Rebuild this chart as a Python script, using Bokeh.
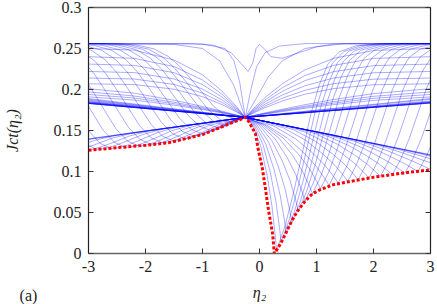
from bokeh.plotting import figure
from bokeh.models import LinearAxis, FixedTicker, Label
from bokeh.embed import file_html
from bokeh.resources import INLINE
from bokeh.core import enums
import math

# ---------------- data ----------------
x_ticks = [-3, -2, -1, 0, 1, 2, 3]
x_tick_labels = ["-3", "-2", "-1", "0", "1", "2", "3"]
y_ticks = [0, 0.05, 0.1, 0.15, 0.2, 0.25, 0.3]
y_tick_labels = ["0", "0.05", "0.1", "0.15", "0.2", "0.25", "0.3"]

# red dotted curve (lower envelope)
red_x = [-3.0, -2.5, -2.0, -1.6, -1.0, -0.75, -0.5, -0.35, -0.25, -0.18, -0.07, -0.02,
         0.05, 0.1, 0.16, 0.23, 0.26, 0.3, 0.37, 0.45, 0.51, 0.6, 0.67, 0.8, 0.93,
         1.07, 1.3, 1.6, 2.0, 2.5, 3.0]
red_y = [0.126, 0.129, 0.132, 0.135, 0.145, 0.152, 0.159, 0.163, 0.166, 0.160, 0.146, 0.126,
         0.104, 0.081, 0.052, 0.024, 0.0, 0.004, 0.012, 0.023, 0.032, 0.044, 0.052, 0.064, 0.073,
         0.078, 0.084, 0.088, 0.093, 0.098, 0.102]

# blue family A: curves with their dip on the right-hand side
family_right = [
    ([-3, -2.2, -1.5, -1.0, -0.65, -0.4, -0.25, -0.1125, 0.025, 0.135, 0.2175, 0.2725, 0.30, 0.45, 0.60, 0.75, 0.90, 1.05, 1.20, 1.40, 1.70, 2.10, 3.5],
     [0.250, 0.248, 0.236, 0.218, 0.1975, 0.179, 0.166, 0.156, 0.130, 0.0948, 0.0584, 0.024, 0.004, 0.034, 0.075, 0.122, 0.170, 0.206, 0.231, 0.246, 0.2535, 0.256, 0.256]),
    ([-3, -2.2, -1.5, -1.0, -0.65, -0.4, -0.25, -0.0925, 0.065, 0.191, 0.2855, 0.3485, 0.38, 0.53, 0.68, 0.83, 0.98, 1.13, 1.28, 1.48, 1.78, 2.18, 3.5],
     [0.240, 0.238, 0.228, 0.2116, 0.1938, 0.1775, 0.166, 0.1563, 0.132, 0.0985, 0.0645, 0.0327, 0.014, 0.043, 0.082, 0.128, 0.174, 0.2076, 0.232, 0.2463, 0.2536, 0.256, 0.256]),
    ([-3, -2.2, -1.5, -1.0, -0.65, -0.4, -0.25, -0.07, 0.11, 0.254, 0.362, 0.434, 0.47, 0.62, 0.77, 0.92, 1.07, 1.22, 1.37, 1.57, 1.87, 2.27, 3.5],
     [0.231, 0.2294, 0.2205, 0.206, 0.1904, 0.1761, 0.166, 0.1565, 0.1337, 0.1027, 0.0713, 0.0421, 0.025, 0.0527, 0.0897, 0.1336, 0.1775, 0.2098, 0.2329, 0.2468, 0.2537, 0.256, 0.256]),
    ([-3, -2.2, -1.5, -1.0, -0.65, -0.4, -0.25, -0.045, 0.16, 0.324, 0.447, 0.529, 0.57, 0.72, 0.87, 1.02, 1.17, 1.32, 1.47, 1.67, 1.97, 2.37, 3.5],
     [0.222, 0.2206, 0.2129, 0.2005, 0.187, 0.1747, 0.166, 0.1568, 0.1358, 0.1075, 0.0793, 0.0532, 0.038, 0.0642, 0.099, 0.1405, 0.1819, 0.2124, 0.2342, 0.2473, 0.2538, 0.256, 0.256]),
    ([-3, -2.2, -1.5, -1.0, -0.65, -0.4, -0.25, -0.0175, 0.215, 0.401, 0.5405, 0.6335, 0.68, 0.83, 0.98, 1.13, 1.28, 1.43, 1.58, 1.78, 2.08, 2.48, 3.5],
     [0.214, 0.2128, 0.2062, 0.1956, 0.184, 0.1734, 0.166, 0.1575, 0.1379, 0.1128, 0.088, 0.0652, 0.052, 0.0765, 0.1091, 0.1479, 0.1866, 0.2152, 0.2356, 0.2478, 0.254, 0.256, 0.256]),
    ([-3, -2.2, -1.5, -1.0, -0.65, -0.4, -0.25, 0.0125, 0.275, 0.485, 0.6425, 0.7475, 0.80, 0.95, 1.10, 1.25, 1.40, 1.55, 1.70, 1.90, 2.20, 2.60, 3.5],
     [0.207, 0.206, 0.2004, 0.1913, 0.1814, 0.1724, 0.166, 0.1574, 0.1396, 0.1171, 0.0953, 0.0754, 0.064, 0.087, 0.1178, 0.1542, 0.1907, 0.2176, 0.2368, 0.2483, 0.2541, 0.256, 0.256]),
    ([-3, -2.2, -1.5, -1.0, -0.65, -0.4, -0.25, 0.045, 0.34, 0.576, 0.753, 0.871, 0.93, 1.08, 1.23, 1.38, 1.53, 1.68, 1.83, 2.03, 2.33, 2.73, 3.5],
     [0.201, 0.1955, 0.1869, 0.1793, 0.1734, 0.1688, 0.166, 0.1574, 0.1407, 0.1202, 0.1006, 0.083, 0.073, 0.095, 0.1242, 0.159, 0.1938, 0.2194, 0.2377, 0.2487, 0.2542, 0.256, 0.256]),
    ([-3, -2.2, -1.5, -1.0, -0.65, -0.4, -0.25, 0.08, 0.41, 0.674, 0.872, 1.004, 1.07, 1.22, 1.37, 1.52, 1.67, 1.82, 1.97, 2.17, 2.47, 2.87, 3.5],
     [0.197, 0.1921, 0.1845, 0.1778, 0.1725, 0.1685, 0.166, 0.1572, 0.1411, 0.1219, 0.1039, 0.088, 0.079, 0.1002, 0.1286, 0.1622, 0.1958, 0.2206, 0.2383, 0.2489, 0.2542, 0.256, 0.256]),
    ([-3, -2.2, -1.5, -1.0, -0.65, -0.4, -0.25, 0.1175, 0.485, 0.779, 1.0, 1.1465, 1.22, 1.37, 1.52, 1.67, 1.82, 1.97, 2.12, 2.32, 2.62, 3.02, 3.5],
     [0.194, 0.1896, 0.1827, 0.1766, 0.1719, 0.1683, 0.166, 0.1569, 0.1411, 0.1227, 0.1059, 0.0912, 0.083, 0.1038, 0.1314, 0.1643, 0.1972, 0.2214, 0.2387, 0.2491, 0.2543, 0.256, 0.256]),
    ([-3, -2.2, -1.5, -1.0, -0.65, -0.4, -0.25, -0.12, 0.255, 0.63, 0.93, 1.155, 1.305, 1.38, 1.53, 1.68, 1.83, 1.98, 2.13, 2.28, 2.48, 2.78, 3.18],
     [0.191, 0.1871, 0.1809, 0.1755, 0.1713, 0.168, 0.166, 0.1642, 0.1552, 0.14, 0.1227, 0.107, 0.0935, 0.086, 0.1064, 0.1336, 0.1659, 0.1982, 0.222, 0.239, 0.2492, 0.2543, 0.256]),
    ([-3, -0.25, 0.05, 0.425, 0.80, 1.10, 1.325, 1.475, 1.55, 1.70, 1.85, 2.0, 2.15, 2.30, 2.45, 2.65, 2.95, 3.35],
     [0.189, 0.166, 0.1617, 0.153, 0.1385, 0.1221, 0.1075, 0.095, 0.088, 0.1082, 0.135, 0.167, 0.1989, 0.2224, 0.2392, 0.2493, 0.2543, 0.256]),
    ([-3, -0.25, 0.23, 0.605, 0.98, 1.28, 1.505, 1.655, 1.73, 1.88, 2.03, 2.18, 2.33, 2.48, 2.63, 2.83, 3.13],
     [0.188, 0.166, 0.1592, 0.1507, 0.1369, 0.1215, 0.1079, 0.0964, 0.090, 0.1099, 0.1365, 0.168, 0.1996, 0.2228, 0.2394, 0.2494, 0.2543]),
    ([-3, -0.25, 0.42, 0.795, 1.17, 1.47, 1.695, 1.845, 1.92, 2.07, 2.22, 2.37, 2.52, 2.67, 2.82, 3.02],
     [0.187, 0.166, 0.1565, 0.1482, 0.1351, 0.1208, 0.1083, 0.0978, 0.092, 0.1117, 0.1379, 0.1691, 0.2002, 0.2232, 0.2396, 0.2494]),
    ([-3, -0.25, 0.62, 0.995, 1.37, 1.67, 1.895, 2.045, 2.12, 2.27, 2.42, 2.57, 2.72, 2.87, 3.02],
     [0.186, 0.166, 0.1536, 0.1456, 0.1332, 0.12, 0.1086, 0.0991, 0.094, 0.1134, 0.1394, 0.1701, 0.2009, 0.2236, 0.2398]),
    ([-3, -0.25, 0.83, 1.205, 1.58, 1.88, 2.105, 2.255, 2.33, 2.48, 2.63, 2.78, 2.93, 3.08],
     [0.185, 0.166, 0.1506, 0.1428, 0.1312, 0.1191, 0.1088, 0.1005, 0.096, 0.1152, 0.1408, 0.1712, 0.2016, 0.224]),
    ([-3, -0.25, 1.05, 1.425, 1.80, 2.10, 2.325, 2.475, 2.55, 2.70, 2.85, 3.0, 3.15],
     [0.1848, 0.166, 0.1475, 0.14, 0.1291, 0.1181, 0.109, 0.1018, 0.098, 0.117, 0.1422, 0.1723, 0.2023]),
    ([-3, -0.25, 1.28, 1.655, 2.03, 2.33, 2.555, 2.705, 2.78, 2.93, 3.08],
     [0.1842, 0.166, 0.1443, 0.1371, 0.127, 0.1171, 0.1092, 0.1031, 0.100, 0.1187, 0.1437]),
    ([-3, -0.25, 1.52, 1.895, 2.27, 2.57, 2.795, 2.945, 3.02, 3.17],
     [0.1838, 0.166, 0.141, 0.1339, 0.1246, 0.116, 0.1093, 0.1044, 0.102, 0.1205]),
    ([-3, -0.25, 1.78, 2.155, 2.53, 2.83, 3.055],
     [0.1835, 0.166, 0.1373, 0.1306, 0.1222, 0.1147, 0.1094]),
    ([-3, -0.25, 2.06, 2.435, 2.81, 3.11],
     [0.1833, 0.166, 0.1334, 0.1269, 0.1194, 0.1133]),
    ([-3, -0.25, 2.4, 2.775, 3.15],
     [0.1832, 0.166, 0.1285, 0.1224, 0.116]),
    ([-3, -0.25, 2.8, 3.175],
     [0.1831, 0.166, 0.1228, 0.1171]),
    ([-3, -0.25, 3.0], [0.1830, 0.166, 0.1205]),
    ([-3, -0.25, 3.0], [0.1830, 0.166, 0.1200]),
]

# blue family B: curves with their dip on the left-hand side
family_left = [
    ([-3.2, -2.5, -2.15, -1.85, -1.6, -1.4, -1.2, -1.0, -0.8, -0.6, -0.4, -0.25, -0.1, 0.1, 0.4, 0.8, 1.3, 2.0, 3.0],
     [0.256, 0.256, 0.2542, 0.2495, 0.2403, 0.2283, 0.2125, 0.1959, 0.1792, 0.1681, 0.1635, 0.166, 0.1771, 0.1904, 0.207, 0.224, 0.238, 0.2476, 0.250]),
    ([-3.2, -2.6, -2.25, -1.95, -1.7, -1.5, -1.3, -1.1, -0.9, -0.7, -0.5, -0.4, -0.25, -0.1, 0.1, 0.4, 0.8, 1.3, 2.0, 3.0],
     [0.256, 0.256, 0.2541, 0.2492, 0.2395, 0.2269, 0.2104, 0.193, 0.1755, 0.1639, 0.159, 0.1618, 0.166, 0.1758, 0.1875, 0.2021, 0.2171, 0.2294, 0.2379, 0.240]),
    ([-3.2, -2.7, -2.35, -2.05, -1.8, -1.6, -1.4, -1.2, -1.0, -0.8, -0.6, -0.45, -0.35, -0.25, -0.1, 0.1, 0.4, 0.8, 1.3, 2.0, 3.0],
     [0.256, 0.256, 0.254, 0.249, 0.239, 0.226, 0.209, 0.191, 0.173, 0.161, 0.156, 0.160, 0.1638, 0.166, 0.1746, 0.1849, 0.1977, 0.2109, 0.2217, 0.2291, 0.231]),
    ([-3.2, -2.82, -2.47, -2.17, -1.92, -1.72, -1.52, -1.32, -1.12, -0.92, -0.72, -0.6025, -0.485, -0.3675, -0.25, -0.1, 0.1, 0.4, 0.8, 1.3, 2.0, 3.0],
     [0.256, 0.256, 0.2539, 0.2488, 0.2385, 0.2251, 0.2076, 0.1891, 0.1705, 0.1582, 0.153, 0.1554, 0.1595, 0.1637, 0.166, 0.1734, 0.1822, 0.1933, 0.2046, 0.214, 0.2204, 0.222]),
    ([-3.2, -2.95, -2.6, -2.3, -2.05, -1.85, -1.65, -1.45, -1.25, -1.05, -0.85, -0.7, -0.55, -0.4, -0.25, -0.1, 0.1, 0.4, 0.8, 1.3, 2.0, 3.0],
     [0.256, 0.256, 0.2539, 0.2486, 0.238, 0.2242, 0.2062, 0.1871, 0.168, 0.1553, 0.150, 0.1529, 0.1579, 0.1631, 0.166, 0.1723, 0.1799, 0.1894, 0.1991, 0.2071, 0.2126, 0.214]),
    ([-3.1, -2.75, -2.45, -2.2, -2.0, -1.8, -1.6, -1.4, -1.2, -1.0, -0.8125, -0.625, -0.4375, -0.25, -0.1, 0.1, 0.4, 0.8, 1.3, 2.0, 3.0],
     [0.256, 0.2538, 0.2483, 0.2373, 0.223, 0.2043, 0.1845, 0.1647, 0.1515, 0.146, 0.1497, 0.1558, 0.1624, 0.166, 0.1714, 0.1779, 0.186, 0.1943, 0.2011, 0.2058, 0.207]),
    ([-3.25, -2.9, -2.6, -2.35, -2.15, -1.95, -1.75, -1.55, -1.35, -1.15, -0.925, -0.7, -0.475, -0.25, -0.1, 0.1, 0.4, 0.8, 1.3, 2.0, 3.0],
     [0.256, 0.2537, 0.2481, 0.2368, 0.2221, 0.2029, 0.1826, 0.1622, 0.1487, 0.143, 0.1472, 0.1542, 0.1618, 0.166, 0.1684, 0.1715, 0.1759, 0.1815, 0.1878, 0.195, 0.201]),
    ([-3.42, -3.07, -2.77, -2.52, -2.32, -2.12, -1.92, -1.72, -1.52, -1.32, -1.0525, -0.785, -0.5175, -0.25, -0.1, 0.1, 0.4, 0.8, 1.3, 2.0, 3.0],
     [0.256, 0.2537, 0.2479, 0.2363, 0.2212, 0.2015, 0.1806, 0.1597, 0.1458, 0.140, 0.1446, 0.1525, 0.1612, 0.166, 0.1681, 0.1709, 0.1748, 0.1797, 0.1853, 0.1917, 0.197]),
    ([-3.25, -2.95, -2.7, -2.5, -2.3, -2.1, -1.9, -1.7, -1.5, -1.35, -1.2, -0.996, -0.696, -0.3, -0.25, -0.1, 0.1, 0.4, 0.8, 1.3, 2.0, 3.0],
     [0.2536, 0.2477, 0.2358, 0.2203, 0.2001, 0.1787, 0.1572, 0.143, 0.137, 0.1385, 0.142, 0.148, 0.1576, 0.1655, 0.166, 0.1679, 0.1704, 0.174, 0.1784, 0.1834, 0.1892, 0.194]),
    ([-3.15, -2.9, -2.7, -2.5, -2.3, -2.1, -1.9, -1.7, -1.55, -1.4, -1.196, -0.896, -0.5, -0.25, -0.1, 0.1, 0.4, 0.8, 1.3, 2.0, 3.0],
     [0.2475, 0.2354, 0.2197, 0.1991, 0.1774, 0.1556, 0.141, 0.135, 0.1365, 0.140, 0.146, 0.1557, 0.1636, 0.166, 0.1677, 0.170, 0.1731, 0.1771, 0.1816, 0.1867, 0.191]),
    ([-3.1, -2.9, -2.7, -2.5, -2.3, -2.1, -1.9, -1.75, -1.6, -1.396, -1.096, -0.7, -0.25, 3.0],
     [0.2351, 0.2191, 0.1982, 0.1761, 0.1539, 0.1392, 0.133, 0.1345, 0.1381, 0.1441, 0.1538, 0.1617, 0.166, 0.189]),
    ([-3.12, -2.92, -2.72, -2.52, -2.32, -2.12, -1.97, -1.82, -1.616, -1.316, -0.92, -0.25, 3.0],
     [0.2185, 0.1973, 0.1748, 0.1523, 0.1373, 0.131, 0.1325, 0.136, 0.142, 0.1517, 0.1596, 0.166, 0.188]),
    ([-3.15, -2.95, -2.75, -2.55, -2.35, -2.2, -2.05, -1.846, -1.546, -1.15, -0.25, 3.0],
     [0.1965, 0.1738, 0.151, 0.1358, 0.1295, 0.1309, 0.1344, 0.1402, 0.1496, 0.1575, 0.166, 0.186]),
    ([-3.2, -3.0, -2.8, -2.6, -2.45, -2.3, -2.096, -1.796, -1.4, -0.25, 3.0],
     [0.1728, 0.1498, 0.1344, 0.128, 0.1294, 0.1326, 0.1383, 0.1473, 0.1551, 0.166, 0.185]),
    ([-3.25, -3.05, -2.85, -2.7, -2.55, -2.346, -2.046, -1.65, -0.25, 3.0],
     [0.149, 0.1335, 0.127, 0.1283, 0.1313, 0.1366, 0.1452, 0.1527, 0.166, 0.185]),
    ([-3.1, -2.95, -2.8, -2.596, -2.296, -1.9, -0.25, 3.0],
     [0.1255, 0.1267, 0.1296, 0.1346, 0.143, 0.1503, 0.166, 0.184]),
    ([-3.1, -2.896, -2.596, -2.2, -0.25, 3.0],
     [0.1277, 0.1325, 0.1404, 0.1475, 0.166, 0.184]),
    ([-3.196, -2.896, -2.5, -0.25, 3.0],
     [0.1305, 0.1379, 0.1446, 0.166, 0.1838]),
    ([-3.296, -2.9, -0.25, 3.0],
     [0.1345, 0.1408, 0.166, 0.1838]),
    ([-3, -0.25, 3.0], [0.1395, 0.166, 0.1836]),
    ([-3, -0.25, 3.0], [0.1392, 0.166, 0.1834]),
]

# blue family C: curves near the top centre
family_top = [
    ([-3, -1.0, -0.6, -0.45, -0.35, -0.25, -0.15, -0.05, 0.1, 0.35, 0.8, 3],
     [0.256, 0.2555, 0.25, 0.235, 0.21, 0.166, 0.2, 0.228, 0.245, 0.253, 0.256, 0.256]),
    ([-3, -1.5, -1.0, -0.7, -0.45, -0.25, -0.05, 0.15, 0.4, 0.8, 1.3, 3],
     [0.256, 0.255, 0.25, 0.235, 0.205, 0.166, 0.19, 0.215, 0.235, 0.25, 0.2555, 0.256]),
    ([-3, -1.2, -0.8, -0.5, -0.3, -0.2, -0.12, -0.06, 0.0, 0.08, 0.2, 0.4, 0.7, 1.0, 1.5, 3],
     [0.256, 0.256, 0.254, 0.245, 0.23, 0.222, 0.232, 0.25, 0.255, 0.25, 0.24, 0.238, 0.245, 0.252, 0.256, 0.256]),
]

# ---------------- figure ----------------
FONT = "Liberation Serif"
TEXT_COLOR = "#222222"
p = figure(width=437, height=304, x_range=(-3, 3), y_range=(0, 0.3),
           output_backend="svg", toolbar_location=None,
           min_border_left=88, min_border_right=7, min_border_top=7, min_border_bottom=51)
p.grid.visible = False
p.outline_line_color = None
p.background_fill_color = "white"
p.border_fill_color = "white"

blue_xs = [c[0] for c in family_right + family_left + family_top]
blue_ys = [c[1] for c in family_right + family_left + family_top]
p.multi_line(blue_xs, blue_ys, line_color="#0000ff", line_alpha=0.33, line_width=1)
p.line(red_x, red_y, line_color="#ff0000", line_width=3, line_dash="3 2")

bottom_ax = p.below[0]
left_ax = p.left[0]

def style_axis(ax, ticks, labels, show_labels=True, line_color="#444444", line_width=1.3):
    ax.ticker = FixedTicker(ticks=ticks)
    ax.major_label_overrides = {t: l for t, l in zip(ticks, labels)}
    ax.minor_tick_line_color = None
    ax.major_tick_in = 5
    ax.major_tick_out = 0
    ax.major_tick_line_color = "#333333"
    ax.axis_line_color = line_color
    ax.axis_line_width = line_width
    ax.major_label_text_font = FONT
    if show_labels:
        ax.major_label_text_color = TEXT_COLOR
        ax.major_label_text_font_size = "16px"
        ax.major_label_standoff = 7
    else:
        ax.major_label_text_color = None
        ax.major_label_text_font_size = "1px"
        ax.major_label_standoff = 0

style_axis(bottom_ax, x_ticks, x_tick_labels, line_color="#666666", line_width=1.6)
style_axis(left_ax, y_ticks, y_tick_labels, line_color="#222222", line_width=1.2)
top_ax = LinearAxis()
right_ax = LinearAxis()
style_axis(top_ax, x_ticks, x_tick_labels, show_labels=False, line_color="#666666", line_width=1.6)
style_axis(right_ax, y_ticks, y_tick_labels, show_labels=False, line_color="#222222", line_width=1.2)
p.add_layout(top_ax, "above")
p.add_layout(right_ax, "right")

# x axis title
bottom_ax.axis_label = "η₂"
bottom_ax.axis_label_text_font = FONT
bottom_ax.axis_label_text_font_style = "italic"
bottom_ax.axis_label_text_font_size = "16px"
bottom_ax.axis_label_text_color = TEXT_COLOR
bottom_ax.axis_label_standoff = 9

# y axis title and panel tag, placed in the left side panel (not clipped)
units = "canvas" if "canvas" in enums.CoordinateUnits else "screen"
def side_label(text, x, y, angle=0.0, italic=False):
    return Label(x=x, y=y, x_units=units, y_units=units, text=text, angle=angle,
                 text_font=FONT, text_font_size="16px",
                 text_font_style="italic" if italic else "normal",
                 text_color=TEXT_COLOR, text_align="center", text_baseline="middle")

p.add_layout(side_label("Jct(η₂)", 12, 130, math.pi / 2, True), "left")
p.add_layout(side_label("(a)", 28, 295), "left")

open("out.html", "w").write(file_html(p, INLINE))
